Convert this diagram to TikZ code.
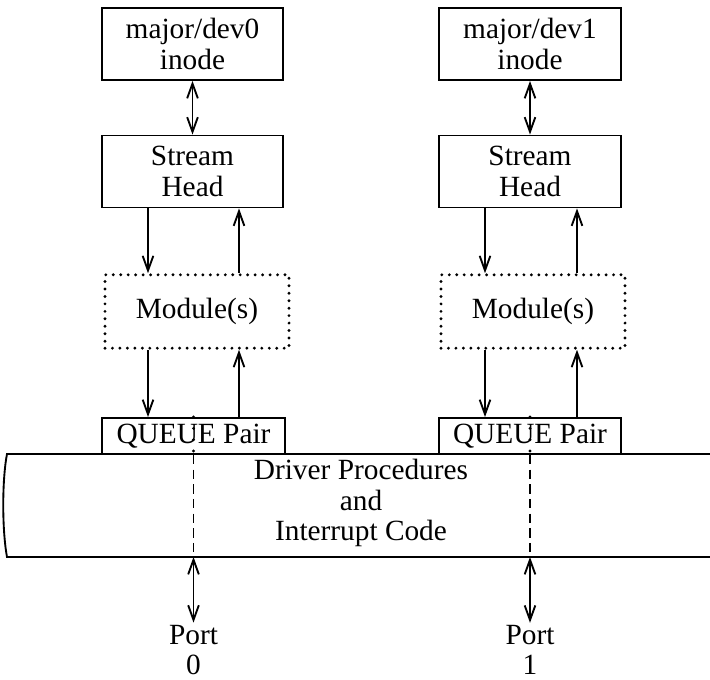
\documentclass[tikz,border=0pt]{standalone}
\usepackage{fontspec}
\setmainfont{Liberation Serif}
\usetikzlibrary{arrows.meta}

\tikzset{every picture/.style={line width=1.4pt}}
\tikzset{
	box/.style={draw, align=center, inner sep=0pt, minimum width=136pt},
	inodebox/.style={box, minimum height=54pt},
	modbox/.style={box, minimum width=138pt, minimum height=55pt, line width=2.4pt, line cap=round, dash pattern=on 0pt off 5.6pt},
	qbox/.style={box, minimum width=137pt, minimum height=27pt},
	lbl/.style={align=center, inner sep=1pt},
	arr/.style={-{Straight Barb[length=11pt,width=8pt]}},
	dblarr/.style={{Straight Barb[length=11pt,width=8pt]}-{Straight Barb[length=11pt,width=8pt]}}
}

\begin{document}
\begin{tikzpicture}[x=0.75pt,y=0.75pt,yscale=-1,xscale=1,font=\fontsize{22}{23}\selectfont]
	\useasboundingbox (0,0) rectangle (710,680);

	% columns
	\node[inodebox] (inode0) at (192.5,44) {major/dev0\\inode};
	\node[inodebox] (inode1) at (530,44) {major/dev1\\inode};
	\node[inodebox] (head0) at (192.5,171.5) {Stream\\Head};
	\node[inodebox] (head1) at (530,171.5) {Stream\\Head};
	\node[modbox] (mod0) at (197,311.5) {Module(s)};
	\node[modbox] (mod1) at (533,311.5) {Module(s)};
	\node[qbox] (q0) at (193.5,436) {QUEUE Pair};
	\node[qbox] (q1) at (530,436) {QUEUE Pair};

	% driver
	\draw (712,454) -- (7,454) .. controls (2,480) and (2,530) .. (7,557) -- (712,557);
	\coordinate (drvbot) at (0,557);
	\node[lbl] (drv) at (361,503) {Driver Procedures\\and\\Interrupt Code};

	% ports
	\node[lbl] (port0) at (193.5,650) {Port\\0};
	\node[lbl] (port1) at (530,650) {Port\\1};

	% arrow positions
	\coordinate (dn0) at (148,0);
	\coordinate (up0) at (239,0);
	\coordinate (dn1) at (485,0);
	\coordinate (up1) at (577,0);

	\draw[dblarr] (inode0) -- (head0);
	\draw[dblarr] (inode1) -- (head1);

	\draw[arr] (head0.south -| dn0) -- (mod0.north -| dn0);
	\draw[arr] (mod0.north -| up0) -- (head0.south -| up0);
	\draw[arr] (mod0.south -| dn0) -- (q0.north -| dn0);
	\draw[arr] (q0.north -| up0) -- (mod0.south -| up0);

	\draw[arr] (head1.south -| dn1) -- (mod1.north -| dn1);
	\draw[arr] (mod1.north -| up1) -- (head1.south -| up1);
	\draw[arr] (mod1.south -| dn1) -- (q1.north -| dn1);
	\draw[arr] (q1.north -| up1) -- (mod1.south -| up1);

	% paths through the driver
	\draw[line width=2.4pt, line cap=round, dash pattern=on 0pt off 8.5pt] (q0.north) -- (q0.south);
	\draw[line width=2.4pt, line cap=round, dash pattern=on 0pt off 8.5pt] (q1.north) -- (q1.south);
	\draw[dash pattern=on 7pt off 4pt] (q0.south) -- (drvbot -| q0.south);
	\draw[dash pattern=on 7pt off 4pt] (q1.south) -- (drvbot -| q1.south);

	\draw[dblarr] (drvbot -| port0) -- (port0.north);
	\draw[dblarr] (drvbot -| port1) -- (port1.north);

\end{tikzpicture}
\end{document}
